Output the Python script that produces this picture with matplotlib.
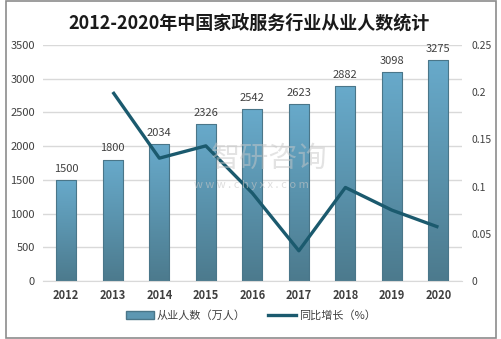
import matplotlib
matplotlib.use("Agg")
import matplotlib.pyplot as plt
import numpy as np
from matplotlib.colors import LinearSegmentedColormap
from matplotlib.lines import Line2D
from matplotlib.patches import Patch, Rectangle

plt.rcParams['font.family'] = ['Noto Sans CJK SC', 'DejaVu Sans']

years = ["2012", "2013", "2014", "2015", "2016", "2017", "2018", "2019", "2020"]
workers = [1500, 1800, 2034, 2326, 2542, 2623, 2882, 3098, 3275]
growth = [None, 0.20, 0.13, 0.143, 0.093, 0.032, 0.099, 0.075, 0.057]
left_ticks = [0, 500, 1000, 1500, 2000, 2500, 3000, 3500]
right_ticks = [0, 0.05, 0.1, 0.15, 0.2, 0.25]
right_labels = ["0", "0.05", "0.1", "0.15", "0.2", "0.25"]

fig = plt.figure(figsize=(5.02, 3.39), dpi=100)
fig.patches.append(Rectangle((0.012, 0.003), 0.976, 0.994, transform=fig.transFigure,
                             fill=False, edgecolor='#8c8c8c', linewidth=1.2))
ax = fig.add_axes([0.0857, 0.171, 0.834, 0.697])
x = np.arange(len(years))
bw = 0.43
cmap = LinearSegmentedColormap.from_list('g', ['#4c7a8d', '#5a93ad', '#68aacb'])
grad = np.linspace(0, 1, 256).reshape(-1, 1)
bars = ax.bar(x, workers, width=bw, color='none', edgecolor='#4a7689', linewidth=0.8, zorder=3)
for b in bars:
    bx, by = b.get_x(), b.get_y()
    w, h = b.get_width(), b.get_height()
    im = ax.imshow(grad, cmap=cmap, origin='lower', aspect='auto',
                   extent=[bx, bx + w, by, by + h], zorder=2)
    im.set_clip_path(b)
for xi, v in zip(x, workers):
    ax.text(xi, v + 90, str(v), ha='center', va='bottom', fontsize=8, color='#404040')

ax.set_xlim(-0.5, len(years) - 0.5)
ax.set_ylim(0, 3500)
ax.set_yticks(left_ticks)
ax.set_yticklabels([str(t) for t in left_ticks], fontsize=8, color='#404040')
ax.set_xticks(x)
ax.set_xticklabels(years, fontsize=8, fontweight='bold', color='#404040')
ax.tick_params(length=0, pad=6)
ax.tick_params(axis='y', pad=6)
ax.grid(axis='y', color='#d9d9d9', linewidth=1)
ax.set_axisbelow(True)
for s in ['top', 'right', 'left']:
    ax.spines[s].set_visible(False)
ax.spines['bottom'].set_color('#d9d9d9')

ax2 = ax.twinx()
gx = [xi for xi, g in zip(x, growth) if g is not None]
gy = [g for g in growth if g is not None]
ax2.plot(gx, gy, color='#1b5a6e', linewidth=2.4, zorder=5, solid_capstyle='butt')
ax2.set_ylim(0, 0.25)
ax2.set_yticks(right_ticks)
ax2.set_yticklabels(right_labels, fontsize=7.5, color='#404040')
ax2.tick_params(length=0, pad=7)
for s in ax2.spines.values():
    s.set_visible(False)

fig.text(0.497, 0.932, "2012-2020年中国家政服务行业从业人数统计", ha='center', va='center',
         fontsize=13, fontweight='bold', color='#1a1a1a')

# watermark
fig.text(0.535, 0.53, "智研咨询", ha='center', va='center', fontsize=21, color='#c8c8c8', alpha=0.5)
fig.text(0.50, 0.455, "w w w . c h y x x . c o m", ha='center', va='center', fontsize=8, color='#c8c8c8', alpha=0.6)

handles = [Patch(facecolor='#5d97b2', edgecolor='#4a7689'),
           Line2D([0], [0], color='#1b5a6e', linewidth=2.4)]
fig.legend(handles, ["从业人数（万人）", "同比增长（%）"], loc='center', bbox_to_anchor=(0.5, 0.07),
           ncol=2, frameon=False, fontsize=8, handlelength=2.5, columnspacing=2.0,
           handletextpad=0.3, labelcolor='#404040')

fig.savefig("out.png", dpi=100)
